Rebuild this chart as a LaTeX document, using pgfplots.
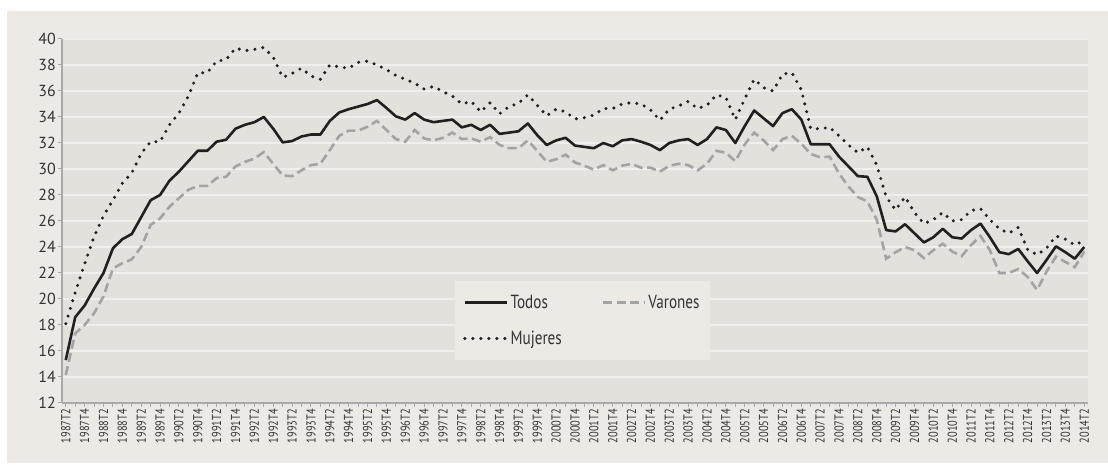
\documentclass[border=0pt]{standalone}
\usepackage{fontspec}
\setmainfont{PT Sans}
\newfontfamily\condfont{PT Sans}[FakeStretch=0.8]
\usepackage{pgfplots}
\usepackage{pgfplotstable}
\pgfplotsset{compat=1.18}
\definecolor{outerbox}{HTML}{EDE9E5}
\definecolor{plotbg}{HTML}{E4E0DC}
\definecolor{gridc}{HTML}{F1EEEB}
\definecolor{textc}{HTML}{333333}
\definecolor{axisc}{HTML}{A8A8A8}
\definecolor{todosc}{HTML}{231F20}
\definecolor{varonesc}{HTML}{A3A3A3}
\pgfplotstableread{
i todos varones mujeres
0 15.3 14.15 18.1
1 18.6 17.35 20.5
2 19.5 18.0 22.7
3 20.8 18.9 24.8
4 22.0 20.2 26.4
5 23.9 22.35 27.6
6 24.6 22.75 28.9
7 25.0 23.05 29.7
8 26.3 24.0 31.2
9 27.6 25.7 32.1
10 28.0 26.2 32.1
11 29.1 27.1 33.4
12 29.8 27.75 34.3
13 30.6 28.4 35.6
14 31.4 28.7 37.4
15 31.4 28.7 37.4
16 32.1 29.3 38.3
17 32.25 29.4 38.4
18 33.1 30.2 39.3
19 33.4 30.55 39.1
20 33.6 30.8 39.2
21 34.0 31.3 39.35
22 33.1 30.4 38.6
23 32.05 29.5 37.05
24 32.15 29.45 37.35
25 32.5 29.9 37.75
26 32.65 30.3 37.15
27 32.65 30.4 36.9
28 33.7 31.45 38.0
29 34.35 32.55 37.85
30 34.6 32.95 37.75
31 34.8 32.95 38.2
32 35.0 33.25 38.3
33 35.3 33.7 38.0
34 34.7 33.0 37.65
35 34.05 32.3 37.2
36 33.8 32.1 36.9
37 34.3 33.0 36.6
38 33.8 32.35 36.15
39 33.6 32.2 36.35
40 33.7 32.4 35.95
41 33.8 32.8 35.6
42 33.2 32.3 35.0
43 33.4 32.35 35.2
44 33.0 32.1 34.4
45 33.4 32.45 35.1
46 32.7 31.85 34.25
47 32.8 31.6 34.8
48 32.9 31.6 35.05
49 33.5 32.2 35.7
50 32.6 31.4 34.9
51 31.85 30.55 34.1
52 32.2 30.75 34.6
53 32.4 31.1 34.4
54 31.8 30.5 33.85
55 31.7 30.25 33.95
56 31.6 29.95 34.15
57 32.0 30.3 34.65
58 31.75 29.9 34.65
59 32.2 30.25 35.0
60 32.3 30.4 35.1
61 32.1 30.1 35.0
62 31.85 30.1 34.55
63 31.45 29.8 33.75
64 32.0 30.25 34.6
65 32.2 30.4 34.85
66 32.3 30.3 35.2
67 31.85 29.9 34.65
68 32.3 30.4 34.9
69 33.2 31.4 35.7
70 33.0 31.25 35.5
71 32.0 30.6 33.8
72 33.3 31.9 35.4
73 34.5 32.8 36.9
74 33.9 32.2 36.25
75 33.3 31.45 36.0
76 34.3 32.3 37.3
77 34.6 32.55 37.4
78 33.8 31.95 36.1
79 31.9 31.15 33.1
80 31.9 30.9 33.1
81 31.9 30.95 33.2
82 30.95 29.65 32.55
83 30.2 28.65 31.85
84 29.45 27.85 31.25
85 29.4 27.5 31.7
86 27.9 26.1 30.3
87 25.3 23.1 27.85
88 25.2 23.6 26.85
89 25.75 24.0 27.85
90 25.05 23.75 26.65
91 24.35 23.15 25.8
92 24.75 23.75 26.1
93 25.4 24.25 26.65
94 24.75 23.65 26.0
95 24.65 23.3 26.1
96 25.3 24.15 26.8
97 25.8 24.85 26.95
98 24.75 23.75 26.1
99 23.6 22.0 25.4
100 23.45 22.0 25.05
101 23.85 22.3 25.5
102 22.9 21.7 23.8
103 22.0 20.7 23.4
104 23.0 22.1 23.9
105 24.05 23.25 24.85
106 23.6 22.85 24.6
107 23.1 22.45 24.15
108 24.0 23.65 24.5
}\datatable
\begin{document}
\begin{tikzpicture}
\fill[white] (-62pt,-62pt) rectangle (1046pt,403pt);
\fill[outerbox] (-55pt,-60pt) rectangle (1046pt,392pt);
\begin{axis}[
  scale only axis,
  width=1026pt, height=364pt,
  at={(0pt,0pt)}, anchor=south west,
  xmin=-0.4, xmax=108.4,
  ymin=12, ymax=40,
  ytick={12,14,...,40},
  xtick={0,2,...,108},
  minor xtick={1,3,...,107},
  xticklabels={1987T2,1987T4,1988T2,1988T4,1989T2,1989T4,1990T2,1990T4,1991T2,1991T4,1992T2,1992T4,1993T2,1993T4,1994T2,1994T4,1995T2,1995T4,1996T2,1996T4,1997T2,1997T4,1998T2,1998T4,1999T2,1999T4,2000T2,2000T4,2001T2,2001T4,2002T2,2002T4,2003T2,2003T4,2004T2,2004T4,2005T2,2005T4,2006T2,2006T4,2007T2,2007T4,2008T2,2008T4,2009T2,2009T4,2010T2,2010T4,2011T2,2011T4,2012T2,2012T4,2013T2,2013T4,2014T2},
  axis x line*=bottom, axis y line*=left,
  axis line style={color=axisc, line width=1.3pt},
  tick align=outside,
  major tick length=4pt, minor tick length=4pt,
  tick style={color=axisc, line width=1pt},
  ymajorgrids,
  major grid style={color=gridc, line width=1.4pt},
  axis background/.style={fill=plotbg},
  /pgf/number format/assume math mode=true,
  yticklabel style={font=\fontsize{16}{16}\selectfont, text=textc, inner sep=2pt},
  xticklabel style={rotate=90, anchor=east, font=\condfont\fontsize{13}{13}\selectfont, text=textc, inner sep=2pt},
  legend image code/.code={\draw[#1] (0pt,0pt) -- (42pt,0pt);},
  legend cell align=left,
  legend columns=2,
  legend style={at={(0.383,0.335)}, anchor=north west, fill=outerbox, draw=none,
    font=\condfont\fontsize{19}{19}\selectfont, text=textc,
    inner xsep=8pt, inner ysep=12pt, row sep=17pt,
    /tikz/every even column/.append style={column sep=38pt}},
]
\addplot[todosc, line width=2.6pt, line join=round] table[x=i, y=todos] {\datatable};
\addlegendentry{Todos}
\addplot[varonesc, line width=2.6pt, dash pattern=on 9pt off 4.5pt] table[x=i, y=varones] {\datatable};
\addlegendentry{Varones}
\addplot[todosc, line width=3.4pt, line cap=round, dash pattern=on 0pt off 8pt] table[x=i, y=mujeres] {\datatable};
\addlegendentry{Mujeres}
\end{axis}
\end{tikzpicture}
\end{document}
